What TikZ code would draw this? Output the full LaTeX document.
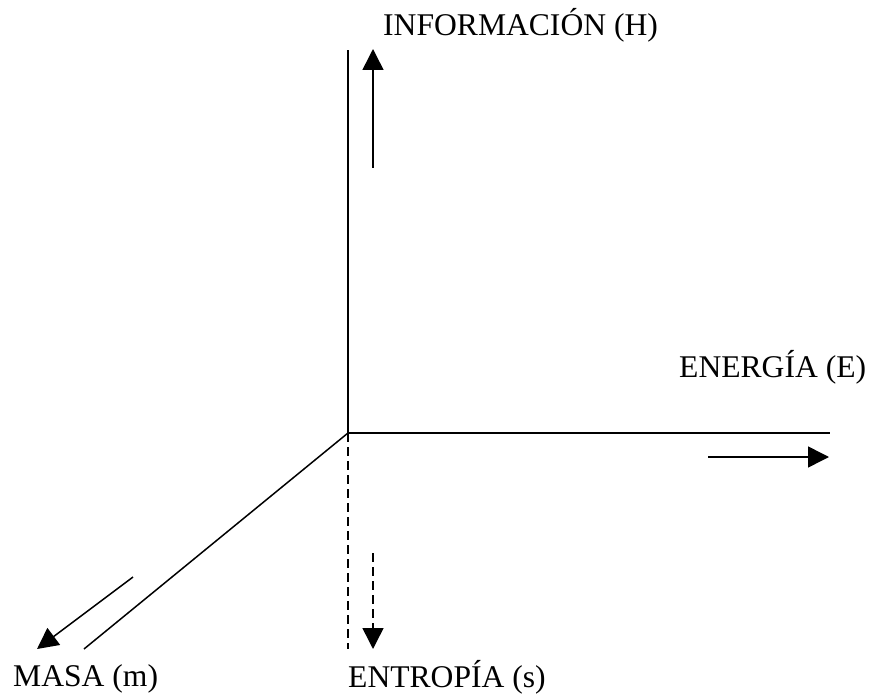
\documentclass[tikz,border=0pt]{standalone}
\usepackage{fontspec}
\setmainfont{Liberation Serif}
\usetikzlibrary{arrows.meta}
\begin{document}
\begin{tikzpicture}[x=1pt,y=-1pt,
  axis/.style={line width=1.5pt},
  dashaxis/.style={line width=1.5pt,dash pattern=on 9pt off 5pt},
  flow/.style={line width=1.5pt,-{Triangle[length=21pt,width=21pt]}},
  lbl/.style={anchor=base west,inner sep=0pt,font=\fontsize{31.6}{36}\selectfont}]
  \useasboundingbox (0,0) rectangle (870,695);
  % axes
  \coordinate (O) at (348,433);
  \coordinate (Htop) at (348,50);
  \coordinate (Eend) at (830,433);
  \coordinate (Mend) at (84,649);
  \coordinate (Send) at (348,649);
  \draw[axis] (O) -- (Htop);
  \draw[axis] (O) -- (Eend);
  \draw[axis] (O) -- (Mend);
  \draw[dashaxis] (O) -- (Send);
  % direction arrows
  \coordinate (h1) at (373,168); \coordinate (h2) at (373,49);
  \coordinate (e1) at (708,457); \coordinate (e2) at (829,457);
  \coordinate (m1) at (133,577); \coordinate (m2) at (37,649);
  \coordinate (s1) at (373,553); \coordinate (s2) at (373,649);
  \draw[flow] (h1) -- (h2);
  \draw[flow] (e1) -- (e2);
  \draw[flow] (m1) -- (m2);
  \draw[flow,dash pattern=on 9pt off 5pt] (s1) -- (s2);
  % labels
  \node[lbl] (lH) at (383,36) {INFORMACIÓN (H)};
  \node[lbl] (lE) at (679,377) {ENERGÍA (E)};
  \node[lbl] (lM) at (13,686) {MASA (m)};
  \node[lbl] (lS) at (348,687) {ENTROPÍA (s)};
\end{tikzpicture}
\end{document}
